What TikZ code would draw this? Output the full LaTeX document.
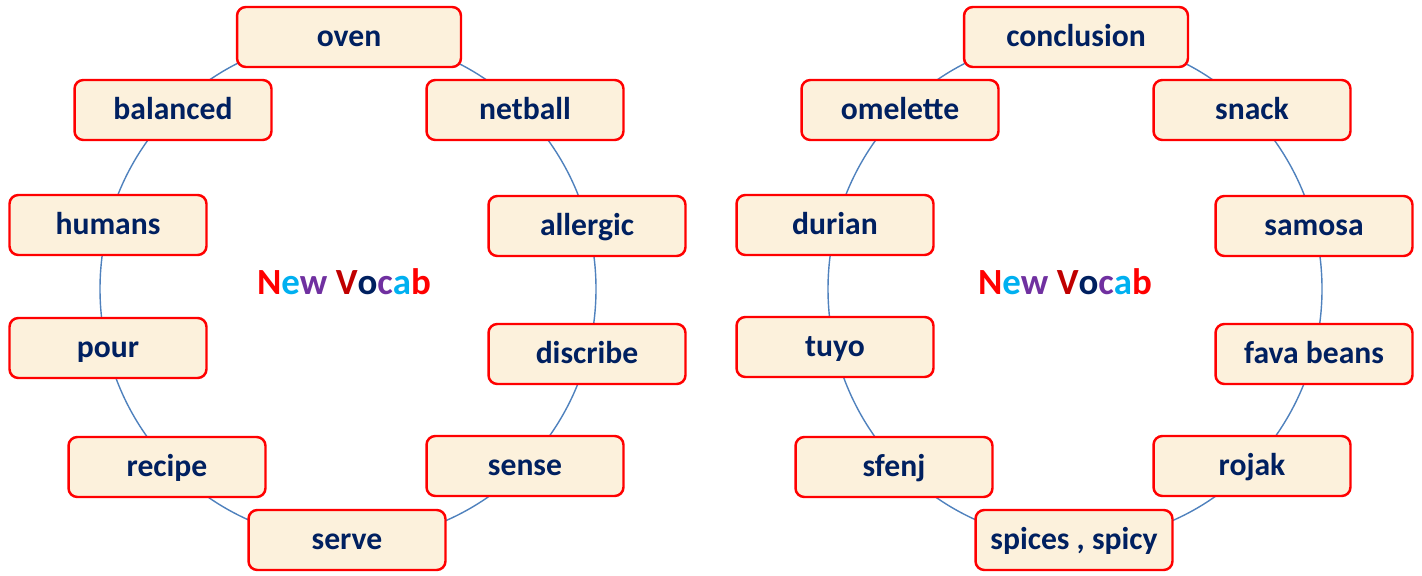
\documentclass[tikz,border=0pt]{standalone}
\usepackage{fontspec}
\setmainfont{Carlito}
\definecolor{vocnavy}{RGB}{0, 32, 96}
\definecolor{vocred}{RGB}{255, 0, 0}
\definecolor{vocdark}{RGB}{192, 0, 0}
\definecolor{vocsky}{RGB}{0, 176, 240}
\definecolor{vocpurple}{RGB}{112, 48, 160}
\definecolor{ringblue}{RGB}{79, 129, 189}
\definecolor{cardfill}{RGB}{252, 241, 220}
\usetikzlibrary{positioning}
\newcommand{\newvocab}{\textcolor{vocred}{N}\textcolor{vocsky}{e}\textcolor{vocpurple}{w} \textcolor{vocdark}{V}\textcolor{vocnavy}{o}\textcolor{vocpurple}{c}\textcolor{vocsky}{a}\textcolor{vocred}{b}}

\begin{document}
\begin{tikzpicture}[x=0.02cm, y=-0.02cm,
  card/.style={draw=vocred, line width=1.4pt, fill=cardfill, rounded corners=5pt, minimum width=3.94cm, minimum height=1.2cm, text=vocnavy, font=\fontsize{18}{20}\selectfont\bfseries, text height=1.15em, text depth=0.1em, inner sep=2pt},
  widecard/.style={card, minimum width=4.48cm},
  ring/.style={draw=ringblue, line width=0.8pt},
  title/.style={font=\fontsize{21}{24}\selectfont\bfseries}
]
  \useasboundingbox (0,0) rectangle (1422,575);

  % Left ring
  \coordinate (lc) at (348,289);
  \draw[ring] (lc) ellipse [x radius=248, y radius=252];
  \node[title] (ltitle) at (344,282) {\newvocab};
  \node[widecard] (oven) at (349,37) {oven};
  \node[card] (balanced) at (173,110) {balanced};
  \node[card] (netball) at (525,110) {netball};
  \node[card] (humans) at (108,225) {humans};
  \node[card] (allergic) at (587,226) {allergic};
  \node[card] (pour) at (108,348) {pour};
  \node[card] (discribe) at (587,354) {discribe};
  \node[card] (recipe) at (167,467) {recipe};
  \node[card] (sense) at (525,466) {sense};
  \node[card] (serve) at (347,540) {serve};

  % Right ring
  \coordinate (rc) at (1075,289);
  \draw[ring] (rc) ellipse [x radius=247, y radius=252];
  \node[title] (rtitle) at (1065,282) {\newvocab};
  \node[widecard] (conclusion) at (1076,37) {conclusion};
  \node[card] (omelette) at (900,110) {omelette};
  \node[card] (snack) at (1252,110) {snack};
  \node[card] (durian) at (835,225) {durian};
  \node[card] (samosa) at (1314,226) {samosa};
  \node[card] (tuyo) at (835,347) {tuyo};
  \node[card] (fava) at (1314,354) {fava beans};
  \node[card] (sfenj) at (894,467) {sfenj};
  \node[card] (rojak) at (1252,466) {rojak};
  \node[card] (spices) at (1074,540) {spices , spicy};
\end{tikzpicture}
\end{document}
